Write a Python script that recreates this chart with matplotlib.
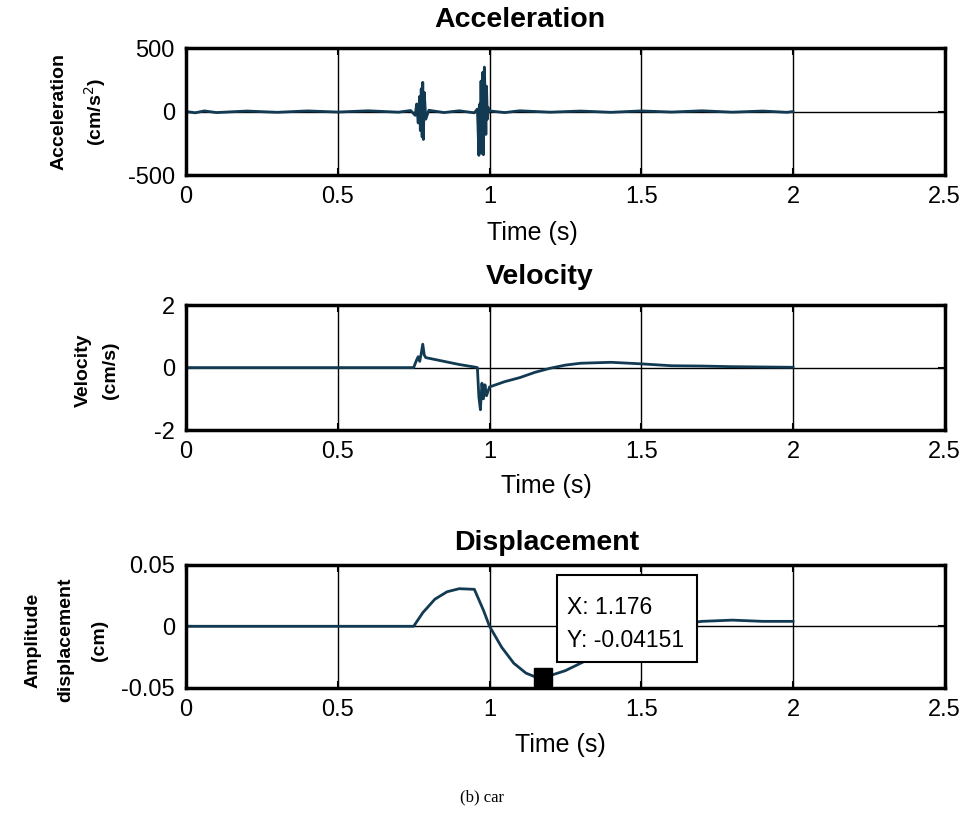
import matplotlib.pyplot as plt
from matplotlib.patches import Rectangle

# values
acc_t = [0.0, 0.03, 0.06, 0.1, 0.2, 0.3, 0.4, 0.5, 0.6, 0.7, 0.74, 0.755, 0.76, 0.765,
         0.77, 0.772, 0.775, 0.778, 0.78, 0.782, 0.785, 0.79, 0.8, 0.85, 0.9, 0.95,
         0.96, 0.962, 0.965, 0.968, 0.97, 0.972, 0.975, 0.978, 0.98, 0.983, 0.986,
         0.988, 0.99, 0.993, 0.996, 1.0, 1.05, 1.1, 1.2, 1.3, 1.4, 1.5, 1.6, 1.7, 1.8,
         1.9, 1.98, 2.0]
acc_v = [0, -10, 5, -8, 4, -6, 5, -4, 6, -5, 8, -30, 60, -90, 120, -150, 180, -200,
         230, -220, 150, -60, 10, -8, 6, -10, 20, -120, -345, 60, -200, 240, -330,
         310, -340, 350, 80, -180, 200, -60, 30, 5, -8, 6, -5, 4, -6, 5, -4, 6, -5,
         4, -6, 0]

vel_t = [0.0, 0.2, 0.4, 0.6, 0.75, 0.76, 0.765, 0.77, 0.775, 0.78, 0.785, 0.79, 0.85,
         0.9, 0.95, 0.96, 0.965, 0.97, 0.975, 0.98, 0.985, 0.99, 1.0, 1.05, 1.1, 1.15,
         1.2, 1.25, 1.3, 1.4, 1.5, 1.6, 1.7, 1.8, 1.9, 2.0]
vel_v = [0, 0, 0, 0, 0, 0.25, 0.35, 0.2, 0.45, 0.75, 0.4, 0.32, 0.2, 0.1, 0.02, 0.0,
         -0.95, -1.35, -0.5, -1.0, -0.55, -0.9, -0.62, -0.45, -0.32, -0.15, -0.02,
         0.08, 0.14, 0.17, 0.12, 0.06, 0.05, 0.03, 0.02, 0.01]

dis_t = [0.0, 0.2, 0.4, 0.6, 0.75, 0.78, 0.82, 0.86, 0.9, 0.95, 0.98, 1.0, 1.04,
         1.08, 1.12, 1.15, 1.176, 1.2, 1.25, 1.3, 1.4, 1.5, 1.6, 1.7, 1.8, 1.9, 2.0]
dis_v = [0, 0, 0, 0, 0.0, 0.011, 0.022, 0.028, 0.0305, 0.03, 0.013, 0.0, -0.017,
         -0.03, -0.038, -0.041, -0.04151, -0.040, -0.036, -0.03, -0.018, -0.006,
         0.001, 0.004, 0.005, 0.004, 0.004]

tip_x = 1.176
tip_y = -0.04151

line_col = '#123a52'
W, H = 964, 816

fig = plt.figure(figsize=(W / 100, H / 100), dpi=100)
plt.rcParams['font.family'] = ['Liberation Sans', 'DejaVu Sans']

# (t, v, axes rect, ylim, yticks, labels, title, title px, ylabel, ylabel px, spacing, xlabel px)
panels = [
    (acc_t, acc_v, [0.193, 0.7855, 0.787, 0.1556], (-500, 500), [-500, 0, 500],
     ['-500', '0', '500'], 'Acceleration', (520, 20), 'Acceleration\n(cm/s$^2$)',
     (79, 112), 1.75, (532, 233)),
    (vel_t, vel_v, [0.193, 0.473, 0.787, 0.153], (-2, 2), [-2, 0, 2],
     ['-2', '0', '2'], 'Velocity', (540, 277), 'Velocity\n(cm/s)',
     (97, 370), 1.75, (546, 486)),
    (dis_t, dis_v, [0.193, 0.157, 0.787, 0.151], (-0.05, 0.05), [-0.05, 0, 0.05],
     ['-0.05', '0', '0.05'], 'Displacement', (547, 543), 'Amplitude\ndisplacement\n(cm)',
     (66, 640), 2.25, (560, 745)),
]

axes = []
for t, v, pos, ylim, yt, ytl, title, tpx, ylab, ypx, lsp, xpx in panels:
    ax = fig.add_axes(pos)
    ax.plot(t, v, color=line_col, lw=2)
    ax.set_xlim(0, 2.5)
    ax.set_ylim(*ylim)
    ax.set_xticks([0, 0.5, 1, 1.5, 2, 2.5])
    ax.set_xticklabels(['0', '0.5', '1', '1.5', '2', '2.5'])
    ax.set_yticks(yt)
    ax.set_yticklabels(ytl)
    ax.grid(True, color='black', lw=1, ls='-')
    ax.tick_params(direction='in', length=5, width=1.5, labelsize=17, pad=8,
                   top=True, right=True)
    for s in ax.spines.values():
        s.set_linewidth(2.5)
    fig.text(tpx[0] / W, 1 - tpx[1] / H, title, ha='center', va='center',
             fontsize=20.5, fontweight='bold')
    fig.text(ypx[0] / W, 1 - ypx[1] / H, ylab, ha='center', va='center', rotation=90,
             multialignment='center', fontsize=14, fontweight='bold', linespacing=lsp)
    fig.text(xpx[0] / W, 1 - xpx[1] / H, 'Time (s)', ha='center', va='center',
             fontsize=18)
    axes.append(ax)

# data tip on the displacement panel
ax = axes[2]
ax.plot([tip_x], [tip_y], marker='s', color='black', ms=13, zorder=6)
ax.add_patch(Rectangle((1.222, -0.0289), 0.461, 0.0708, fc='white', ec='black',
                       lw=1.5, zorder=5))
ax.text(1.255, 0.015, 'X: 1.176', fontsize=16.5, ha='left', va='center', zorder=7)
ax.text(1.255, -0.0115, 'Y: -0.04151', fontsize=16.5, ha='left', va='center', zorder=7)

fig.text(482 / W, 1 - 797 / H, '(b) car', ha='center', va='center', fontsize=12,
         family='Liberation Serif')

plt.savefig('out.png', dpi=100)
